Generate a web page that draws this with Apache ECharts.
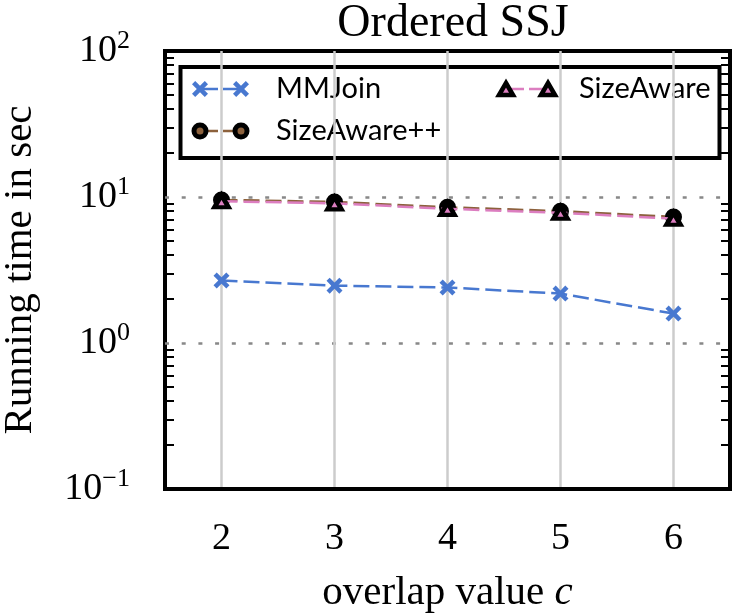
<!DOCTYPE html>
<html>
<head>
<meta charset="utf-8">
<script src="https://cdn.jsdelivr.net/npm/echarts@6/dist/echarts.min.js"></script>
<style>
    html, body { margin: 0; padding: 0; background: #fff; }
    #id-div-chart { width: 734px; height: 613px; }
</style>
</head>
<body>
<div id="id-div-chart"></div>
<script>
var log = console.log.bind(console)

var e = (selector) => document.querySelector(selector)

// 数据
var overlapValues = ['2', '3', '4', '5', '6']
var mmJoin = [2.68, 2.47, 2.40, 2.18, 1.59]
var sizeAware = [9.35, 9.05, 8.3, 7.8, 7.1]
var sizeAwarePlus = [9.55, 9.25, 8.5, 8.0, 7.3]
var yMajorTicks = [0.1, 1, 10, 100]
var yMinorTicks = [
    0.2, 0.3, 0.4, 0.5, 0.6, 0.7, 0.8, 0.9,
    2, 3, 4, 5, 6, 7, 8, 9,
    20, 30, 40, 50, 60, 70, 80, 90,
]

var blue = '#4878d0'
var pink = '#dc7ec0'
var brown = '#8c613c'
var serif = 'Liberation Serif'
var sans = 'Lato'
var dash = [16, 6]

// 粗 X 形状, 10x10 的格子里
var crossPoints = [
    [0, 2], [2, 0], [5, 3], [8, 0], [10, 2], [7, 5],
    [10, 8], [8, 10], [5, 7], [2, 10], [0, 8], [3, 5],
]
var crossPath = 'path://M' + crossPoints.map((p) => p.join(',')).join(' L') + ' Z'

var superscript = function(value) {
    var exp = Math.round(Math.log10(value))
    var s = exp < 0 ? '\u2212' + Math.abs(exp) : String(exp)
    return '{b|10}{s|' + s + '}'
}

var minorAxis = function(position) {
    return {
        type: 'log',
        position: position,
        min: 0.1,
        max: 100,
        logBase: 10,
        axisLine: { show: false },
        axisLabel: { show: false },
        splitLine: { show: false },
        axisTick: {
            show: true,
            inside: true,
            length: 9,
            customValues: yMinorTicks,
            lineStyle: { color: '#000', width: 2 },
        },
    }
}

var legendGraphic = function() {
    var rowA = 89
    var rowB = 131
    var font = '29px ' + sans
    var elements = [
        {
            type: 'rect',
            shape: { x: 180.5, y: 67, width: 539, height: 91 },
            style: { fill: '#fff', stroke: '#000', lineWidth: 4 },
        },
        {
            type: 'line',
            shape: { x1: 200, y1: rowA, x2: 241, y2: rowA },
            style: { stroke: blue, lineWidth: 2.5, lineDash: [18, 5] },
        },
        {
            type: 'text',
            x: 276, y: rowA,
            style: { text: 'MMJoin', font: font, fill: '#000', verticalAlign: 'middle' },
        },
        {
            type: 'line',
            shape: { x1: 506, y1: rowA, x2: 548, y2: rowA },
            style: { stroke: pink, lineWidth: 2.5, lineDash: [18, 5] },
        },
        {
            type: 'text',
            x: 579, y: rowA,
            style: { text: 'SizeAware', font: font, fill: '#000', verticalAlign: 'middle' },
        },
        {
            type: 'line',
            shape: { x1: 200, y1: rowB, x2: 241, y2: rowB },
            style: { stroke: brown, lineWidth: 2.5, lineDash: [18, 5] },
        },
        {
            type: 'text',
            x: 276, y: rowB,
            style: { text: 'SizeAware++', font: font, fill: '#000', verticalAlign: 'middle' },
        },
    ]
    var xs = [[200, 241], [506, 548]]
    for (var i = 0; i < 2; i++) {
        var cx = xs[0][i]
        elements.push({
            type: 'polygon',
            shape: { points: crossPoints.map((p) => [cx - 8 + p[0] * 1.6, rowA - 8 + p[1] * 1.6]) },
            style: { fill: blue },
        })
        elements.push({
            type: 'circle',
            shape: { cx: cx, cy: rowB, r: 6 },
            style: { fill: brown, stroke: '#000', lineWidth: 5 },
        })
        var tx = xs[1][i]
        elements.push({
            type: 'polygon',
            shape: { points: [[tx, rowA - 6], [tx + 7, rowA + 6], [tx - 7, rowA + 6]] },
            style: { fill: pink, stroke: '#000', lineWidth: 4.5 },
        })
    }
    return elements
}

var chartOption = function() {
    var option = {
        animation: false,
        title: {
            text: 'Ordered SSJ',
            left: 448,
            top: -4,
            textAlign: 'center',
            textStyle: { fontFamily: serif, fontSize: 46, fontWeight: 'normal', color: '#000' },
        },
        grid: {
            left: 165,
            right: 4,
            top: 51,
            bottom: 124,
            containLabel: false,
            outerBoundsMode: 'none',
            show: true,
            borderColor: '#000',
            borderWidth: 4,
            backgroundColor: 'transparent',
        },
        xAxis: {
            type: 'category',
            data: overlapValues,
            boundaryGap: true,
            name: '{n|overlap value }{i|c}',
            nameLocation: 'middle',
            nameGap: 84,
            nameTextStyle: {
                rich: {
                    n: { fontFamily: serif, fontSize: 41, color: '#000' },
                    i: { fontFamily: serif, fontSize: 41, fontStyle: 'italic', color: '#000' },
                },
            },
            axisLine: { lineStyle: { color: '#000', width: 4 } },
            axisTick: {
                alignWithLabel: true,
                length: 14,
                lineStyle: { color: '#000', width: 2.5 },
            },
            axisLabel: {
                margin: 31,
                fontFamily: serif,
                fontSize: 38,
                color: '#000',
            },
            splitLine: {
                show: true,
                alignWithLabel: true,
                lineStyle: { color: '#cccccc', width: 2.5 },
            },
        },
        yAxis: [
            {
                type: 'log',
                logBase: 10,
                min: 0.1,
                max: 100,
                name: 'Running time in sec',
                nameLocation: 'middle',
                nameGap: 124,
                nameTextStyle: { fontFamily: serif, fontSize: 41, color: '#000' },
                axisLine: { lineStyle: { color: '#000', width: 4 } },
                axisTick: {
                    length: 14,
                    customValues: yMajorTicks,
                    lineStyle: { color: '#000', width: 2.5 },
                },
                axisLabel: {
                    margin: 35,
                    customValues: yMajorTicks,
                    formatter: superscript,
                    rich: {
                        b: { fontFamily: serif, fontSize: 38, color: '#000', verticalAlign: 'middle' },
                        s: { fontFamily: serif, fontSize: 26, color: '#000', verticalAlign: 'bottom', padding: [0, 0, 20, 0] },
                    },
                },
                splitLine: {
                    show: true,
                    showMinLine: false,
                    showMaxLine: false,
                    lineStyle: { color: '#888', width: 2.5, type: [4, 12.7] },
                },
            },
            minorAxis('left'),
            minorAxis('right'),
        ],
        graphic: legendGraphic(),
        series: [
            {
                name: 'MMJoin',
                type: 'line',
                data: mmJoin,
                symbol: crossPath,
                symbolSize: 16,
                itemStyle: { color: blue },
                lineStyle: { color: blue, width: 2.5, type: dash },
                z: 3,
            },
            {
                name: 'SizeAware++',
                type: 'line',
                data: sizeAwarePlus,
                symbol: 'circle',
                symbolSize: 12,
                itemStyle: { color: brown, borderColor: '#000', borderWidth: 5 },
                lineStyle: { color: brown, width: 2.5, type: dash },
                z: 4,
            },
            {
                name: 'SizeAware',
                type: 'line',
                data: sizeAware,
                symbol: 'triangle',
                symbolSize: [14, 12],
                itemStyle: { color: pink, borderColor: '#000', borderWidth: 4.5 },
                lineStyle: { color: pink, width: 2.5, type: dash },
                z: 5,
            },
        ],
    }
    return option
}

var __main = function() {
    var chart = echarts.init(e('#id-div-chart'), null, { renderer: 'canvas' })
    chart.setOption(chartOption())
}

__main()
</script>
</body>
</html>
